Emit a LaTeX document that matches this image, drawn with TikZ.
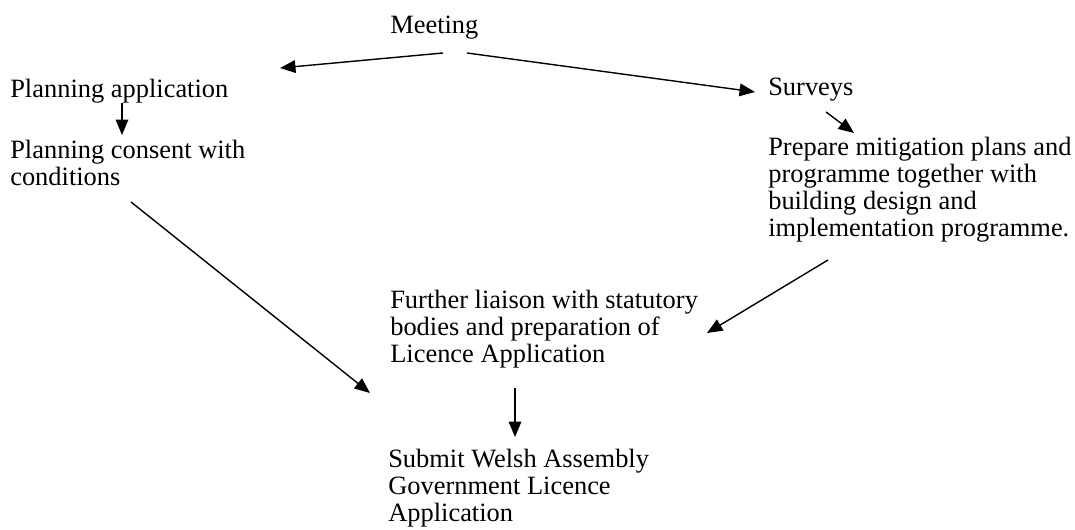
\documentclass[tikz,border=0pt]{standalone}
\usepackage{fontspec}
\setmainfont{Liberation Serif}
\usepackage{tikz}
\usetikzlibrary{positioning}
\usetikzlibrary{arrows.meta}
\usetikzlibrary{calc}

\begin{document}
\begin{tikzpicture}[x=0.025cm, y=-0.025cm,
    stage/.style={anchor=north west, inner sep=0pt, align=left, font=\fontsize{18.8}{19.2}\selectfont},
    flow/.style={-{Triangle[length=11pt, width=9pt]}, line width=1pt}]
    \useasboundingbox (0,0) rectangle (1075,530);

    % Nodes representing the stages
    \node (meeting) [stage] at (390,16) {Meeting};
    \node (planapp) [stage] at (10,79) {Planning application};
    \node (surveys) [stage] at (768,78) {Surveys};
    \node (consent) [stage] at (10,140) {Planning consent with\\conditions};
    \node (mitigation) [stage] at (768,137) {Prepare mitigation plans and\\programme together with\\building design and\\implementation programme.};
    \node (liaison) [stage] at (390,290) {Further liaison with statutory\\bodies and preparation of\\Licence Application};
    \node (submit) [stage] at (388,449) {Submit Welsh Assembly\\Government Licence\\Application};

    % Arrows showing order
    \draw[flow] ($(meeting.north west)+(53,37)$) -- ($(planapp.north west)+(270,-11)$);
    \draw[flow] ($(meeting.north west)+(77,37)$) -- ($(surveys.north west)+(-13,14)$);
    \draw[flow] ($(planapp.north west)+(112,24)$) -- ($(consent.north west)+(112,-5)$);
    \draw[flow] ($(surveys.north west)+(58,34)$) -- ($(mitigation.north west)+(86,-4)$);
    \draw[flow] ($(consent.north west)+(121,62)$) -- ($(liaison.north west)+(-20,103)$);
    \draw[flow] ($(mitigation.north west)+(60,123)$) -- ($(liaison.north west)+(317,43)$);
    \draw[flow] ($(liaison.north west)+(125,98)$) -- ($(submit.north west)+(127,-12)$);
\end{tikzpicture}
\end{document}
